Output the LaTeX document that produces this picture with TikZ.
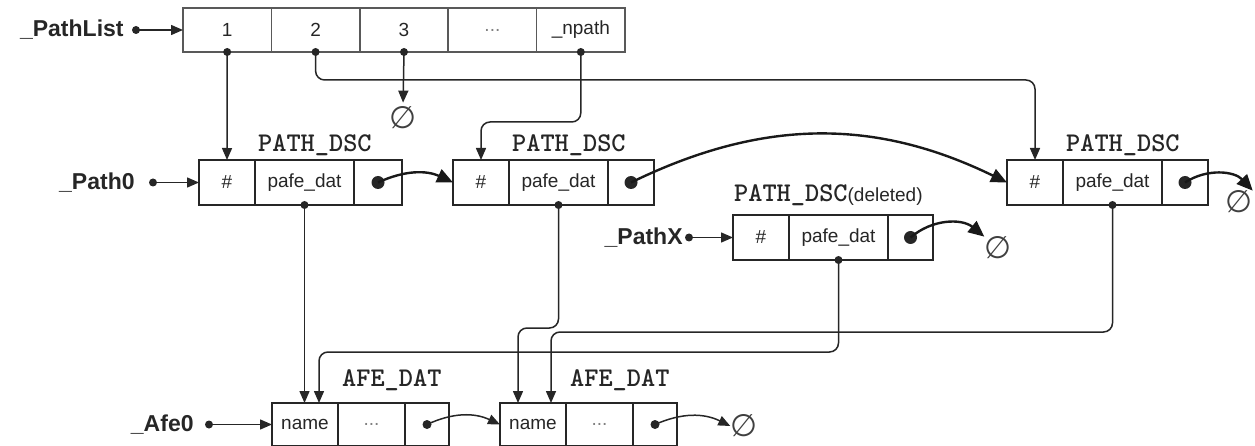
\documentclass[tikz,border=0pt]{standalone}
\usepackage{fontspec}
\setmainfont{Liberation Sans}
\newfontfamily\nilfont{DejaVu Sans}
\usetikzlibrary{arrows.meta, positioning}

\begin{document}
\begin{tikzpicture}[
    x=1pt, y=-1pt,
    node distance=0pt,
    cell/.style={rectangle, draw=black!85, line width=1.2pt, inner sep=0pt, outer sep=0pt,
                 minimum height=45pt, text=black!85, font=\fontsize{19}{21}\selectfont},
    lcell/.style={cell, draw=gray!70!black, line width=1.5pt, minimum width=88.4pt, minimum height=44pt},
    dcell/.style={cell, minimum width=#1},
    acell/.style={cell, minimum height=43pt, minimum width=#1},
    rim/.style={line width=2.2pt, black!85},
    tname/.style={font=\fontsize{23}{25}\selectfont\bfseries, text=black!85, inner sep=0pt},
    tlabel/.style={font=\fontsize{27}{28}\selectfont\ttfamily\bfseries, text=black!85,
                   inner sep=0pt, anchor=base west},
    nil/.style={font=\fontsize{31}{31}\selectfont\nilfont, text=black!75, inner sep=0pt},
    pdot/.style={circle, fill=black!85, inner sep=0pt, minimum size=#1},
    pdot/.default=8pt,
    conn/.style={-{Triangle[length=12pt,width=10pt]}, line width=1.5pt, black!85, rounded corners=9pt},
    link/.style={-{Triangle[length=16pt,width=14pt]}, line width=2.4pt, black!90},
  ]
  \useasboundingbox (0,0) rectangle (1255,446);

  % path list
  \node[lcell] (l1) at (227.2,30) {1};
  \node[lcell, right=of l1] (l2) {2};
  \node[lcell, right=of l2] (l3) {3};
  \node[lcell, right=of l3, text=gray] (l4) {...};
  \node[lcell, right=of l4] (ln) {\_npath};
  \node[pdot] (plistd) at (136,30) {};
  \node[tname, left=8pt of plistd] (plist) {\_PathList};
  \foreach \c in {l1,l2,l3,ln} \node[pdot] (\c s) at (\c.south) {};

  % path descriptors
  \node[dcell=56pt] (p0h) at (227,182.5) {\#};
  \node[dcell=99pt, right=of p0h] (p0d) {pafe\_dat};
  \node[dcell=48pt, right=of p0d] (p0p) {};
  \draw[rim] (p0h.north west) rectangle (p0p.south east);
  \node[tlabel] (p0lab) at ([shift={(3,-8)}]p0d.north west) {PATH\_DSC};

  \node[dcell=56pt] (p1h) at (481,182.5) {\#};
  \node[dcell=99pt, right=of p1h] (p1d) {pafe\_dat};
  \node[dcell=46pt, right=of p1d] (p1p) {};
  \draw[rim] (p1h.north west) rectangle (p1p.south east);
  \node[tlabel] (p1lab) at ([shift={(3,-8)}]p1d.north west) {PATH\_DSC};

  \node[dcell=56pt] (p2h) at (1035,182.5) {\#};
  \node[dcell=99pt, right=of p2h] (p2d) {pafe\_dat};
  \node[dcell=46pt, right=of p2d] (p2p) {};
  \draw[rim] (p2h.north west) rectangle (p2p.south east);
  \node[tlabel] (p2lab) at ([shift={(3,-8)}]p2d.north west) {PATH\_DSC};

  \node[dcell=56pt] (pXh) at (761,237.5) {\#};
  \node[dcell=99pt, right=of pXh] (pXd) {pafe\_dat};
  \node[dcell=45pt, right=of pXd] (pXp) {};
  \draw[rim] (pXh.north west) rectangle (pXp.south east);
  \node[tlabel] (pXlab) at ([shift={(1,-13)}]pXh.north west)
    {PATH\_DSC{\rmfamily\mdseries\fontsize{19}{21}\selectfont(deleted)}};

  \node[pdot] (path0d) at (153,182.5) {};
  \node[tname, left=14pt of path0d] (path0) {\_Path0};
  \node[pdot] (pathXd) at (689,237.5) {};
  \node[tname, left=2pt of pathXd] (pathX) {\_PathX};
  \foreach \p in {p0,p1,p2,pX} {
    \node[pdot] (\p ds) at (\p d.south) {};
    \node[pdot=13pt] (\p pd) at (\p p.center) {};
  }

  % afe data
  \node[acell=66pt] (a0n) at (305,424.5) {name};
  \node[acell=67pt, right=of a0n, text=gray] (a0d) {...};
  \node[acell=44pt, right=of a0d] (a0p) {};
  \node[tlabel] (a0lab) at ([shift={(4,-17)}]a0d.north west) {AFE\_DAT};
  \node[acell=66pt] (a1n) at (533,424.5) {name};
  \node[acell=67pt, right=of a1n, text=gray] (a1d) {...};
  \node[acell=44pt, right=of a1d] (a1p) {};
  \node[tlabel] (a1lab) at ([shift={(4,-17)}]a1d.north west) {AFE\_DAT};
  \node[pdot] (afe0d) at (209,424.5) {};
  \node[tname, left=11pt of afe0d] (afe0) {\_Afe0};
  \node[pdot=9pt] (a0pd) at (a0p.center) {};
  \node[pdot=9pt] (a1pd) at (a1p.center) {};

  % nil ends
  \node[nil] (nil3) at (403,118) {∅};
  \node[nil] (nilX) at (998,248) {∅};
  \node[nil] (nil2) at (1239,202) {∅};
  \node[nil] (nilA) at (744,426) {∅};

  % list links
  \draw[conn] (plistd.center) -- (l1);
  \draw[conn] (l1s.center) -- (p0h.north);
  \draw[conn] (l2s.center) -- ++(0,28) -| (p2h.north);
  \draw[conn, shorten >=4pt] (l3s.center) -- (nil3.north);
  \draw[conn] (lns.center) -- ++(0,70) -| (p1h.north);

  % descriptor chain
  \draw[conn] (path0d.center) -- (p0h);
  \draw[conn] (pathXd.center) -- (pXh);
  \draw[link] (p0pd.center) to[bend left=25] (p1h.west);
  \draw[link] (p1pd.center) to[bend left=26] (p2h.west);
  \draw[link] (p2pd.center) to[bend left=40] (nil2.north east);
  \draw[link] (pXpd.center) to[bend left=40] (nilX.north west);

  % pafe_dat links
  \draw[conn] (p0ds.center) -- (p0ds |- a0n.north);
  \draw[conn] (pXds.center) -- ++(0,92) -| ([xshift=14pt]a0n.north);
  \draw[conn] (p1ds.center) -- ++(0,123) -| ([xshift=-15pt]a1n.north);
  \draw[conn] (p2ds.center) -- ++(0,127) -| ([xshift=18pt]a1n.north);

  % afe chain
  \draw[conn] (afe0d.center) -- (a0n);
  \draw[conn] (a0pd.center) to[bend left=25] (a1n.west);
  \draw[conn] (a1pd.center) to[bend left=25] (nilA.west);
\end{tikzpicture}
\end{document}
